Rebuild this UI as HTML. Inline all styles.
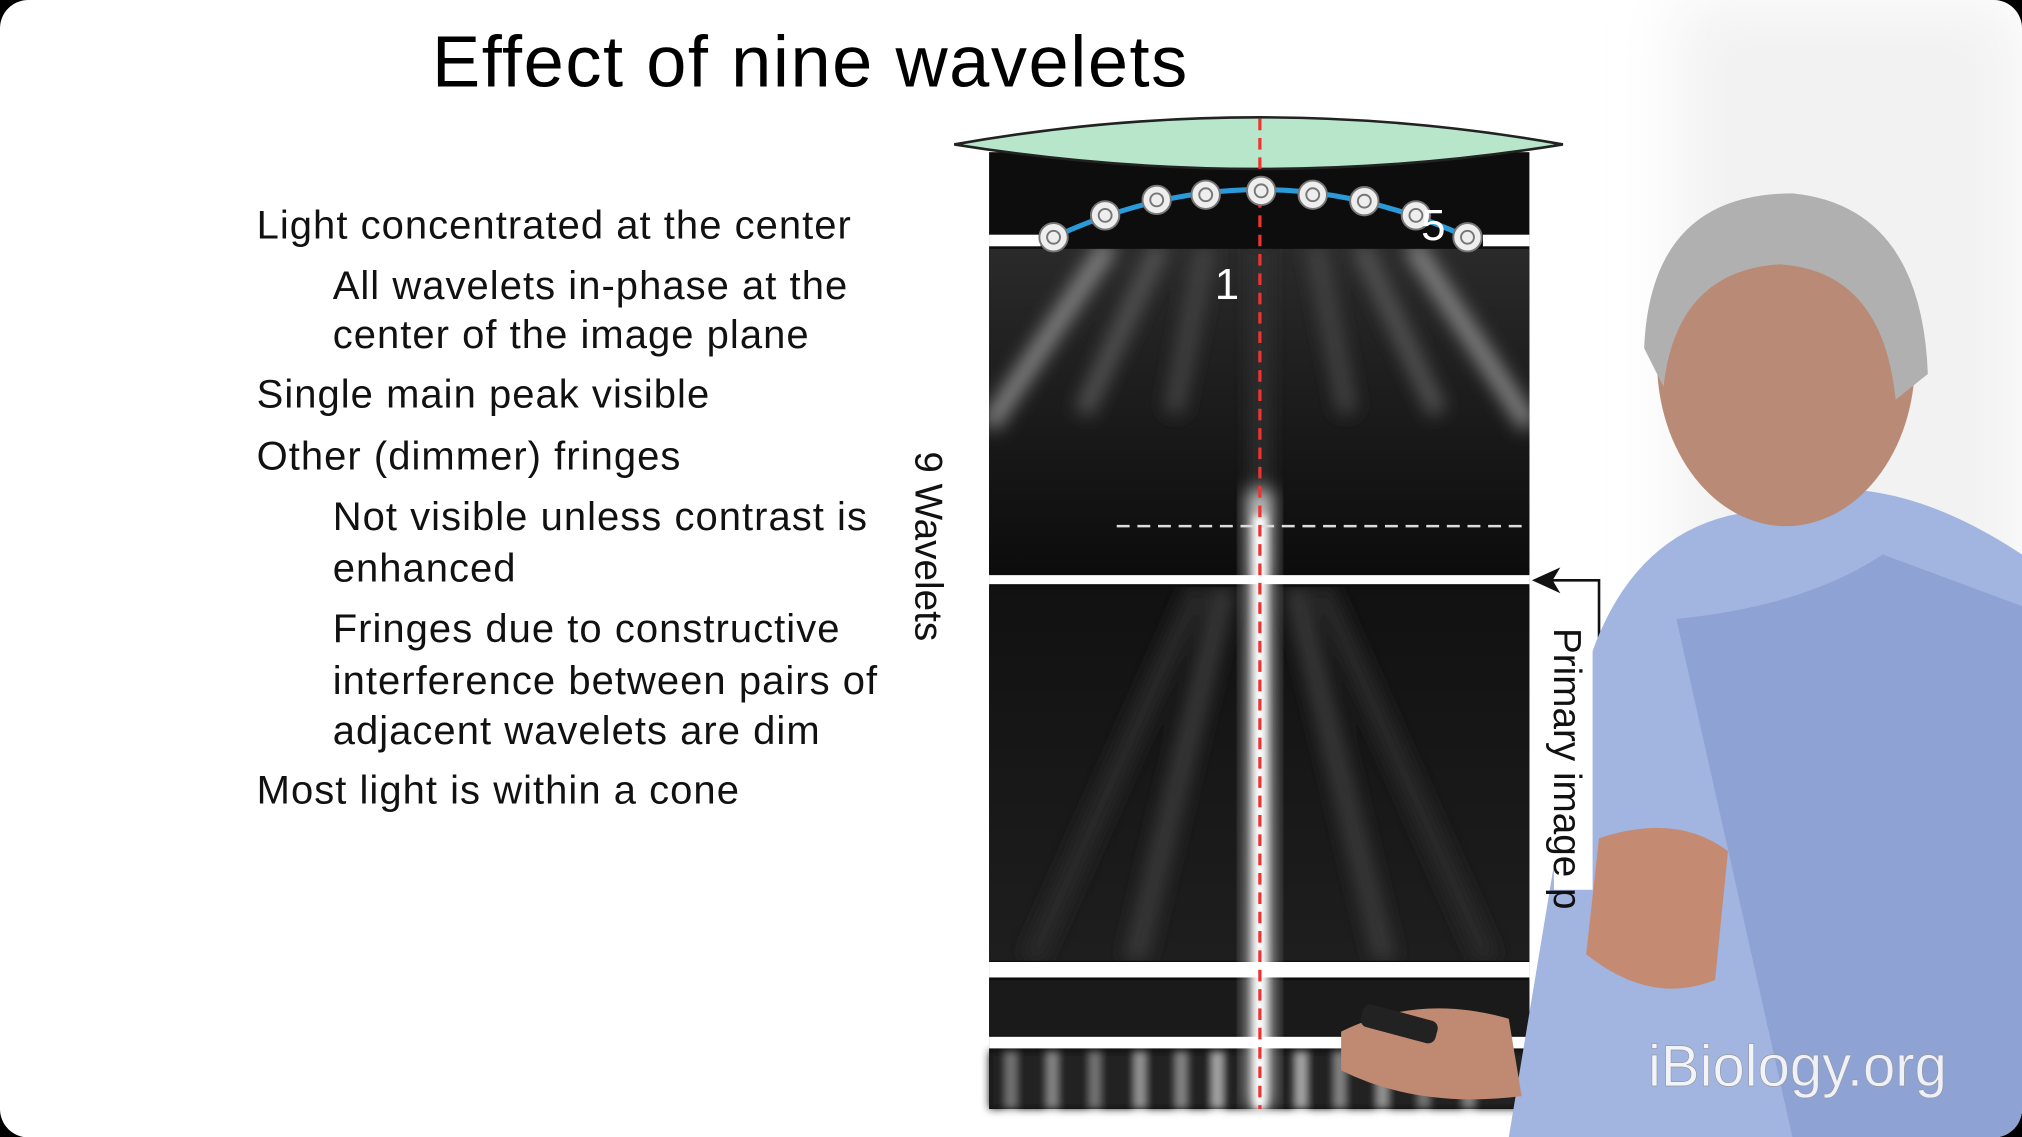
<!DOCTYPE html>
<html><head><meta charset="utf-8"><style>
html,body{margin:0;padding:0;background:#000;width:2022px;height:1137px;overflow:hidden}
#s{position:absolute;left:0;top:0;width:1568px;height:882px;transform:scale(1.28954);transform-origin:0 0;background:#fff;border-radius:22px;overflow:hidden;font-family:"Liberation Sans",sans-serif}
.t{position:absolute;color:#111;font-size:31px;letter-spacing:0.8px;white-space:nowrap;line-height:1}
</style></head><body>
<div id="s">
<div class="t" style="left:335px;top:20px;font-size:56px;letter-spacing:1.2px;color:#000">Effect of nine wavelets</div>
<div class="t" style="left:199px;top:159px">Light concentrated at the center</div>
<div class="t" style="left:258px;top:203px;line-height:38px">All wavelets in-phase at the<br>center of the image plane</div>
<div class="t" style="left:199px;top:290px">Single main peak visible</div>
<div class="t" style="left:199px;top:338px">Other (dimmer) fringes</div>
<div class="t" style="left:258px;top:381px;line-height:40px">Not visible unless contrast is<br>enhanced</div>
<div class="t" style="left:258px;top:468px;line-height:39.5px">Fringes due to constructive<br>interference between pairs of<br>adjacent wavelets are dim</div>
<div class="t" style="left:199px;top:597px">Most light is within a cone</div>

<svg width="1568" height="882" style="position:absolute;left:0;top:0">
<defs>
<filter id="b" x="-50%" y="-50%" width="200%" height="200%"><feGaussianBlur stdDeviation="7"/></filter>
<filter id="b2" x="-50%" y="-50%" width="200%" height="200%"><feGaussianBlur stdDeviation="3"/></filter>
<filter id="b3" x="-50%" y="-50%" width="200%" height="200%"><feGaussianBlur stdDeviation="25"/></filter>
<clipPath id="c1"><rect x="767" y="193" width="419" height="252"/></clipPath>
<clipPath id="c2"><rect x="767" y="455" width="419" height="290"/></clipPath>
<linearGradient id="bg1" x1="0" y1="0" x2="0" y2="1"><stop offset="0" stop-color="#2a2a2a"/><stop offset="1" stop-color="#0c0c0c"/></linearGradient>
<linearGradient id="bg2" x1="0" y1="0" x2="0" y2="1"><stop offset="0" stop-color="#111"/><stop offset="1" stop-color="#1e1e1e"/></linearGradient>
</defs>
<rect x="1300" y="0" width="268" height="882" fill="#f2f2f2" filter="url(#b3)"/>
<rect x="767" y="118" width="419" height="742" fill="#0d0d0d"/>
<rect x="767" y="193" width="419" height="252" fill="url(#bg1)"/>
<g clip-path="url(#c1)" filter="url(#b)" stroke="#888" stroke-width="14">
<line x1="860" y1="190" x2="767" y2="330"/><line x1="1095" y1="190" x2="1186" y2="330"/>
<line x1="900" y1="190" x2="840" y2="320" stroke="#555"/><line x1="1055" y1="190" x2="1115" y2="320" stroke="#555"/>
<line x1="935" y1="190" x2="910" y2="320" stroke="#444"/><line x1="1020" y1="190" x2="1045" y2="320" stroke="#444"/>
<line x1="977" y1="190" x2="977" y2="445" stroke="#333"/>
</g>
<rect x="767" y="455" width="419" height="290" fill="url(#bg2)"/>
<g clip-path="url(#c2)" filter="url(#b)" stroke="#3a3a3a" stroke-width="16">
<line x1="950" y1="455" x2="880" y2="745"/><line x1="1004" y1="455" x2="1074" y2="745"/>
<line x1="930" y1="455" x2="800" y2="745" stroke="#2c2c2c"/><line x1="1024" y1="455" x2="1154" y2="745" stroke="#2c2c2c"/>
</g>
<g filter="url(#b2)">
<rect x="767" y="815" width="419" height="45" fill="#222"/>
<rect x="780" y="815" width="8" height="45" fill="#777"/><rect x="812" y="815" width="8" height="45" fill="#888"/>
<rect x="845" y="815" width="8" height="45" fill="#777"/><rect x="880" y="815" width="8" height="45" fill="#999"/>
<rect x="912" y="815" width="8" height="45" fill="#888"/><rect x="940" y="815" width="8" height="45" fill="#aaa"/>
<rect x="1005" y="815" width="8" height="45" fill="#aaa"/><rect x="1035" y="815" width="8" height="45" fill="#888"/>
<rect x="1068" y="815" width="8" height="45" fill="#999"/><rect x="1100" y="815" width="8" height="45" fill="#777"/>
<rect x="1135" y="815" width="8" height="45" fill="#888"/>
</g>
<rect x="767" y="760" width="419" height="43" fill="#1a1a1a"/>
<g fill="#fff">
<rect x="767" y="182" width="40" height="9"/><rect x="1150" y="182" width="36" height="9"/>
<rect x="767" y="446" width="419" height="7"/>
<rect x="767" y="746" width="419" height="12"/>
<rect x="767" y="804" width="419" height="9"/>
</g>
<g>
<rect x="968" y="380" width="18" height="480" fill="#fff" filter="url(#b)" opacity="0.8"/>
<rect x="972" y="400" width="10" height="460" fill="#fff" filter="url(#b2)"/>
</g>
<line x1="866" y1="408" x2="1185" y2="408" stroke="#ddd" stroke-width="2" stroke-dasharray="10,6"/>
<path d="M740 112 Q977 70 1212 112 Q977 150 740 112 Z" fill="#b8e6cb" stroke="#222" stroke-width="2"/>
<line x1="977" y1="92" x2="977" y2="860" stroke="#e33" stroke-width="2.5" stroke-dasharray="9,6"/>
<path d="M817 184 Q977 110 1138 184" fill="none" stroke="#2a9ad8" stroke-width="4"/>
<g fill="#eee" stroke="#777" stroke-width="1.5">
<circle cx="817" cy="184" r="11"/><circle cx="857" cy="167" r="11"/><circle cx="897" cy="155" r="11"/><circle cx="935" cy="151" r="11"/><circle cx="978" cy="148" r="11"/><circle cx="1018" cy="151" r="11"/><circle cx="1058" cy="156" r="11"/><circle cx="1098" cy="167" r="11"/><circle cx="1138" cy="184" r="11"/>
</g>
<g fill="none" stroke="#777" stroke-width="1.5">
<circle cx="817" cy="184" r="5"/><circle cx="857" cy="167" r="5"/><circle cx="897" cy="155" r="5"/><circle cx="935" cy="151" r="5"/><circle cx="978" cy="148" r="5"/><circle cx="1018" cy="151" r="5"/><circle cx="1058" cy="156" r="5"/><circle cx="1098" cy="167" r="5"/><circle cx="1138" cy="184" r="5"/>
</g>
<text x="942" y="232" fill="#fff" font-size="34" font-family="Liberation Sans">1</text>
<text x="1102" y="186" fill="#fff" font-size="34" font-family="Liberation Sans">5</text>
<text transform="translate(710,350) rotate(90)" fill="#111" font-size="30" font-family="Liberation Sans">9 Wavelets</text>
<path d="M1240 690 L1240 450 L1192 450" fill="none" stroke="#111" stroke-width="2"/>
<path d="M1188 450 L1210 440 L1204 450 L1210 460 Z" fill="#111"/>
<g>
<path d="M1340 400 Q1260 420 1230 520 L1170 882 L1568 882 L1568 430 Q1500 385 1440 380 Z" fill="#a2b4e0"/>
<path d="M1300 480 Q1400 470 1460 430 L1568 470 L1568 882 L1390 882 Z" fill="#8ea2d4"/>
<ellipse cx="1385" cy="280" rx="100" ry="128" fill="#b98a76"/>
<path d="M1275 270 Q1280 150 1390 150 Q1490 160 1495 290 L1470 310 Q1460 210 1380 205 Q1300 210 1290 300 Z" fill="#b0b0b0"/>
<path d="M1240 650 Q1300 630 1340 660 L1330 760 Q1280 780 1230 740 Z" fill="#c48b72"/>
<path d="M1040 800 Q1100 770 1170 790 L1180 850 Q1100 860 1040 830 Z" fill="#c08a72"/>
<rect x="1055" y="785" width="60" height="18" rx="6" fill="#222" transform="rotate(15 1085 794)"/>
</g>
<rect x="1205" y="480" width="30" height="210" fill="#fff"/>
<text transform="translate(1205,487) rotate(90)" fill="#111" font-size="30" font-family="Liberation Sans">Primary image p</text>
<text x="1278" y="842" fill="#fff" fill-opacity="0.85" font-size="45" font-family="Liberation Sans" stroke="#999" stroke-width="0.5">iBiology.org</text>
</svg>
</div>
</body></html>
